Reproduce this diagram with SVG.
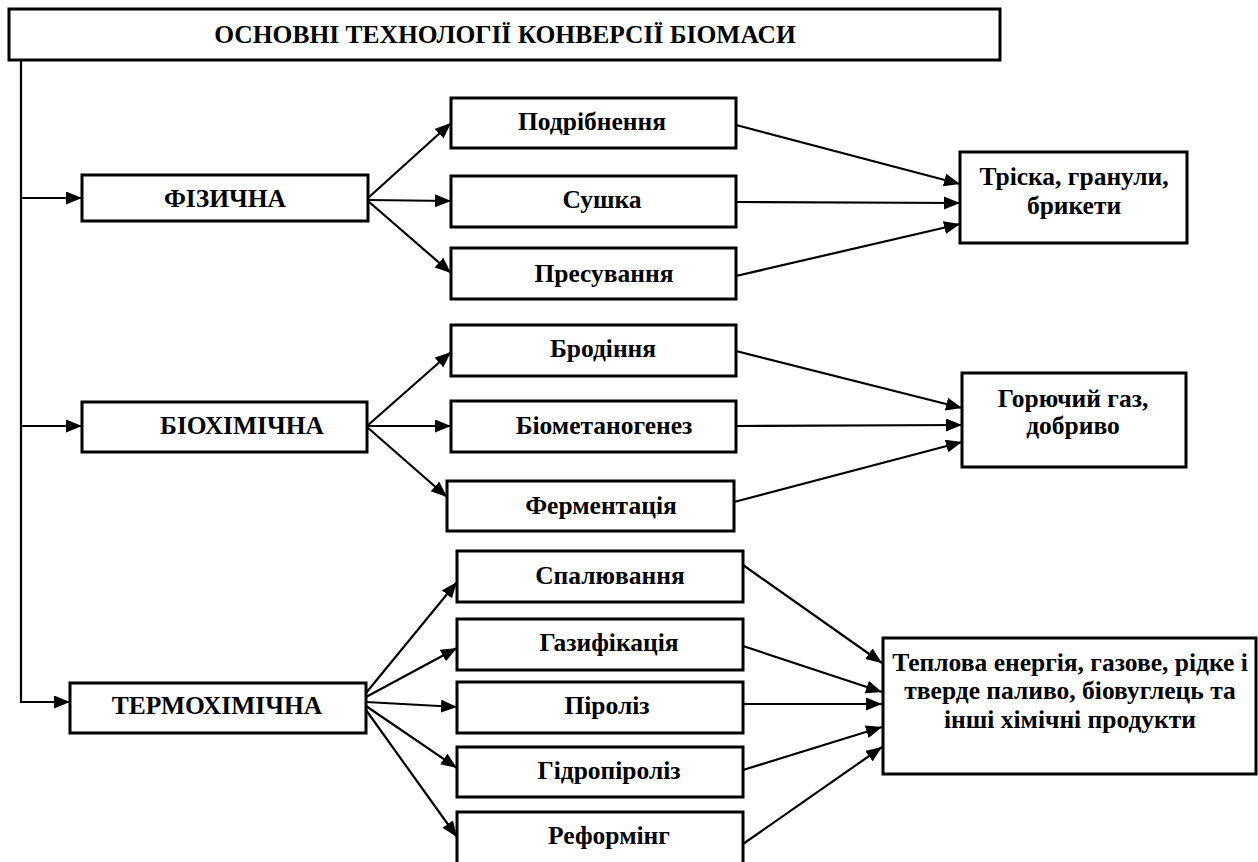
<svg xmlns="http://www.w3.org/2000/svg" width="1258" height="862" viewBox="0 0 1258 862">
<style>
.box{fill:#fff;stroke:#000;stroke-width:3}
.t{font-family:'Liberation Serif','Times New Roman','DejaVu Serif',serif;font-weight:700;font-size:25.5px;fill:#000;text-anchor:middle}
.a{stroke:#000;stroke-width:2.2;fill:none;marker-end:url(#ah)}
</style>
<defs>
<marker id="ah" markerUnits="userSpaceOnUse" markerWidth="18" markerHeight="14" refX="16" refY="6.5" orient="auto">
<path d="M0,0 L16,6.5 L0,13 z" fill="#000"/>
</marker>
</defs>
<rect width="1258" height="862" fill="#fff"/>
<g id="connectors">
<polyline class="a" points="21,60 21,702 70,702"/>
<line class="a" x1="21" y1="198" x2="82" y2="198"/>
<line class="a" x1="21" y1="426" x2="82" y2="426"/>
<line class="a" x1="368" y1="198" x2="451" y2="123"/>
<line class="a" x1="368" y1="200" x2="451" y2="201"/>
<line class="a" x1="368" y1="201" x2="451" y2="273"/>
<line class="a" x1="736" y1="125" x2="960" y2="184"/>
<line class="a" x1="736" y1="202" x2="960" y2="203"/>
<line class="a" x1="736" y1="276" x2="960" y2="224"/>
<line class="a" x1="367" y1="426" x2="451" y2="352"/>
<line class="a" x1="367" y1="426" x2="451" y2="426"/>
<line class="a" x1="367" y1="427" x2="447" y2="497"/>
<line class="a" x1="736" y1="351" x2="962" y2="408"/>
<line class="a" x1="736" y1="426" x2="962" y2="425"/>
<line class="a" x1="734" y1="502" x2="962" y2="442"/>
<line class="a" x1="366" y1="693" x2="457" y2="582"/>
<line class="a" x1="366" y1="697" x2="457" y2="648"/>
<line class="a" x1="366" y1="702" x2="457" y2="707"/>
<line class="a" x1="366" y1="706" x2="457" y2="768"/>
<line class="a" x1="366" y1="710" x2="457" y2="837"/>
<line class="a" x1="743" y1="565" x2="882" y2="663"/>
<line class="a" x1="743" y1="646" x2="882" y2="692"/>
<line class="a" x1="743" y1="704" x2="882" y2="704"/>
<line class="a" x1="743" y1="770" x2="882" y2="727"/>
<line class="a" x1="743" y1="844" x2="882" y2="747"/>
</g>
<g font-family="Liberation Serif, serif">
<g id="title"><rect class="box" x="9" y="9" width="991" height="51"/><text class="t" x="505" y="43">ОСНОВНІ ТЕХНОЛОГІЇ КОНВЕРСІЇ БІОМАСИ</text></g>
<g id="fizychna"><rect class="box" x="82" y="175" width="286" height="46"/><text class="t" x="225" y="207">ФІЗИЧНА</text></g>
<g id="podribnennia"><rect class="box" x="451" y="98" width="285" height="50"/><text class="t" x="592" y="130">Подрібнення</text></g>
<g id="sushka"><rect class="box" x="451" y="176" width="285" height="51"/><text class="t" x="602" y="208">Сушка</text></g>
<g id="presuvannia"><rect class="box" x="451" y="248" width="285" height="51"/><text class="t" x="604" y="282">Пресування</text></g>
<g id="triska"><rect class="box" x="960" y="152" width="227" height="91"/><text class="t" x="1074" y="185">Тріска, гранули,</text><text class="t" x="1074" y="214">брикети</text></g>
<g id="biokhimichna"><rect class="box" x="82" y="402" width="285" height="50"/><text class="t" x="242" y="434">БІОХІМІЧНА</text></g>
<g id="brodinnia"><rect class="box" x="451" y="325" width="285" height="51"/><text class="t" x="603" y="357">Бродіння</text></g>
<g id="biometanogenez"><rect class="box" x="451" y="401" width="285" height="51"/><text class="t" x="604" y="434">Біометаногенез</text></g>
<g id="fermentatsiia"><rect class="box" x="447" y="481" width="287" height="50"/><text class="t" x="601" y="514">Ферментація</text></g>
<g id="goriuchyi"><rect class="box" x="962" y="373" width="224" height="94"/><text class="t" x="1073" y="407">Горючий газ,</text><text class="t" x="1073" y="434">добриво</text></g>
<g id="termokhimichna"><rect class="box" x="70" y="683" width="296" height="50"/><text class="t" x="217" y="714">ТЕРМОХІМІЧНА</text></g>
<g id="spaliuvannia"><rect class="box" x="457" y="551" width="286" height="51"/><text class="t" x="610" y="584">Спалювання</text></g>
<g id="gazyfikatsiia"><rect class="box" x="457" y="619" width="286" height="51"/><text class="t" x="609" y="651">Газифікація</text></g>
<g id="piroliz"><rect class="box" x="457" y="682" width="286" height="51"/><text class="t" x="607" y="714">Піроліз</text></g>
<g id="gidropiroliz"><rect class="box" x="457" y="747" width="286" height="50"/><text class="t" x="609" y="779">Гідропіроліз</text></g>
<g id="reforming"><rect class="box" x="457" y="812" width="286" height="53"/><text class="t" x="609" y="844">Реформінг</text></g>
<g id="teplova"><rect class="box" x="883" y="638" width="373" height="136"/><text class="t" x="1070" y="671">Теплова енергія, газове, рідке і</text><text class="t" x="1070" y="699">тверде паливо, біовуглець та</text><text class="t" x="1070" y="728">інші хімічні продукти</text></g>
</g>
</svg>
